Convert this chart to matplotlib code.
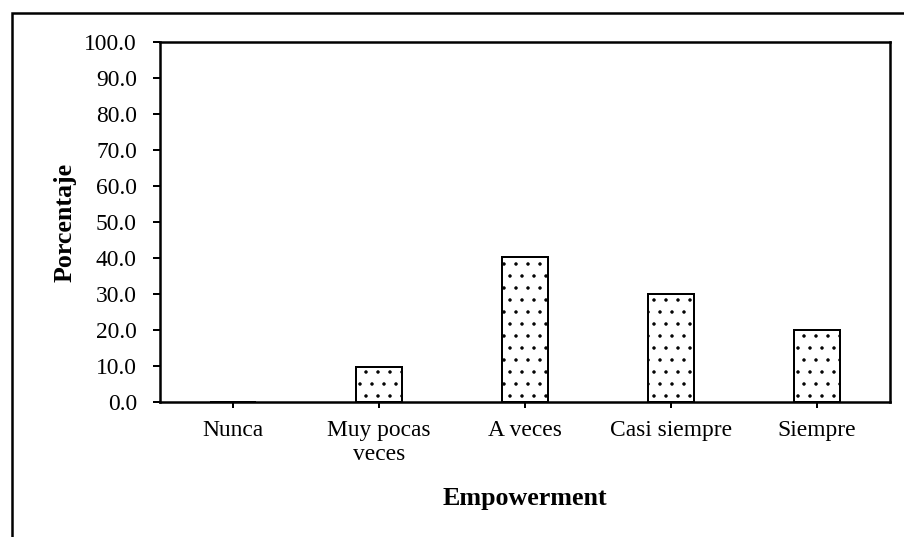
import matplotlib
matplotlib.use("Agg")
import matplotlib.pyplot as plt
from matplotlib.patches import Rectangle

categories = ["Nunca", "Muy pocas\nveces", "A veces", "Casi siempre", "Siempre"]
percentages = [0.0, 9.8, 40.2, 29.9, 20.1]
yticks = [0, 10, 20, 30, 40, 50, 60, 70, 80, 90, 100]

# dpi 72 -> 1 pt == 1 px, and the '.' hatch gets a spacing close to the original
DPI = 72
plt.rcParams["font.family"] = ["Liberation Serif", "DejaVu Serif"]

fig = plt.figure(figsize=(904 / DPI, 537 / DPI), dpi=DPI)
ax = fig.add_axes([160 / 904, 135 / 537, 730 / 904, 360 / 537])

x = range(len(categories))
ax.bar(x, percentages, width=0.315, color="white", edgecolor="black",
       linewidth=2, hatch=".", zorder=1)

ax.set_xlim(-0.5, len(categories) - 0.5)
ax.set_ylim(0, 100)
ax.set_yticks(yticks)
ax.set_yticklabels(["%.1f" % v for v in yticks], fontsize=23.5)
ax.set_xticks(list(x))
ax.set_xticklabels(categories, fontsize=23.5, linespacing=1.2)
ax.tick_params(axis="y", direction="out", length=7, width=2, pad=16)
ax.tick_params(axis="x", direction="out", length=6, width=2, pad=12)
for s in ax.spines.values():
    s.set_linewidth(2.5)
    s.set_zorder(3)

ax.set_ylabel("Porcentaje", fontsize=26, fontweight="bold", labelpad=8)
ax.set_xlabel("Empowerment", fontsize=26, fontweight="bold", labelpad=22)

# outer chart-area border (right and bottom run off the image)
fig.patches.append(Rectangle((12 / 904, -0.1), 1.2, 1.1 - 13 / 537,
                             transform=fig.transFigure, fill=False,
                             edgecolor="black", linewidth=2.5))

fig.savefig("out.png", dpi=DPI)
